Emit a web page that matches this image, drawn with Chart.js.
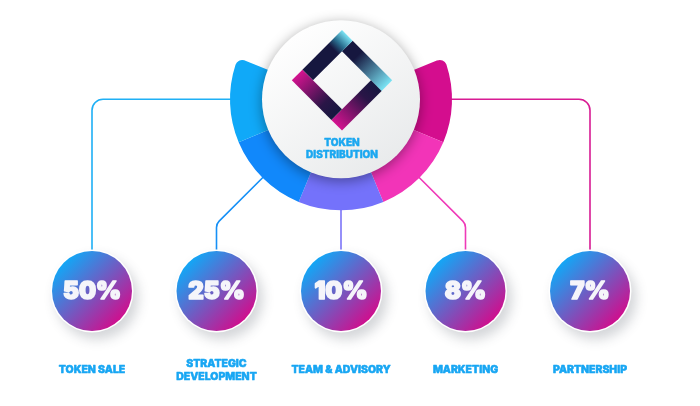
<!DOCTYPE html>
<html>
<head>
<meta charset="utf-8">
<script src="https://cdn.jsdelivr.net/npm/chart.js@4/dist/chart.umd.min.js"></script>
<style>
  html, body { margin: 0; padding: 0; background: #ffffff; }
  #wrap { width: 700px; height: 406px; position: relative; }
  canvas { display: block; }
</style>
</head>
<body>
<div id="wrap"><canvas id="c" width="700" height="406"></canvas></div>
<script>
// ---- data ----
const categories = ['TOKEN SALE', 'STRATEGIC DEVELOPMENT', 'TEAM & ADVISORY', 'MARKETING', 'PARTNERSHIP'];
const labelLines = [['TOKEN SALE'], ['STRATEGIC', 'DEVELOPMENT'], ['TEAM & ADVISORY'], ['MARKETING'], ['PARTNERSHIP']];
const shares = [50, 25, 10, 8, 7];
const shareLabels = ['50%', '25%', '10%', '8%', '7%'];
const ringSegments = [1, 1, 1, 1, 1]; // ring pieces are drawn with equal size
const ringColors = ['#10a9f8', '#1188fb', '#7472fb', '#f234b8', '#d40d8e'];
const lineColors = ['#1fb0f5', '#1690f6', '#7b74f8', '#ef3ab8', '#d81b93'];
const title = ['TOKEN', 'DISTRIBUTION'];

// doughnut draws clockwise from upper right, so feed it right-to-left
const ringData = ringSegments.slice().reverse();
const ringBg = ringColors.slice().reverse();
const ringLabels = categories.slice().reverse();

const FONT = 'Inter, "Noto Sans", sans-serif';

function circlePositions(meta) {
  const a = meta.data[0];
  const cx = a.x, step = 124.5, cy = 291;
  return shares.map((_, i) => ({ x: cx + (i - 2) * step, y: cy }));
}

function heavyText(ctx, txt, x, y, stroke) {
  ctx.lineWidth = stroke;
  ctx.lineJoin = 'round';
  ctx.strokeStyle = ctx.fillStyle;
  ctx.strokeText(txt, x, y);
  ctx.fillText(txt, x, y);
}

const infographic = {
  id: 'infographic',
  beforeDatasetsDraw(chart) {
    const ctx = chart.ctx;
    const meta = chart.getDatasetMeta(0);
    const arc = meta.data[0];
    const cx = arc.x, cy = arc.y, R = arc.outerRadius;
    const pos = circlePositions(meta);
    const topY = pos[0].y - 30;
    ctx.save();
    ctx.lineWidth = 1.6;
    ctx.lineCap = 'round';
    ctx.strokeStyle = lineColors[0];
    ctx.beginPath();
    ctx.moveTo(cx - R + 4, cy);
    ctx.arcTo(pos[0].x, cy, pos[0].x, topY, 11);
    ctx.lineTo(pos[0].x, topY);
    ctx.stroke();
    ctx.strokeStyle = lineColors[4];
    ctx.beginPath();
    ctx.moveTo(cx + R - 4, cy);
    ctx.arcTo(pos[4].x, cy, pos[4].x, topY, 11);
    ctx.lineTo(pos[4].x, topY);
    ctx.stroke();
    [[1, -1], [3, 1]].forEach(([i, s]) => {
      const sx = cx + s * (R - 4) * Math.SQRT1_2;
      const sy = cy + (R - 4) * Math.SQRT1_2;
      const ex = pos[i].x;
      const ey = sy + Math.abs(sx - ex);
      ctx.strokeStyle = lineColors[i];
      ctx.beginPath();
      ctx.moveTo(sx, sy);
      ctx.arcTo(ex, ey, ex, topY, 9);
      ctx.lineTo(ex, topY);
      ctx.stroke();
    });
    ctx.strokeStyle = lineColors[2];
    ctx.beginPath();
    ctx.moveTo(pos[2].x, cy + R - 4);
    ctx.lineTo(pos[2].x, topY);
    ctx.stroke();
    ctx.restore();
  },
  afterDatasetsDraw(chart) {
    const ctx = chart.ctx;
    const meta = chart.getDatasetMeta(0);
    const arc = meta.data[0];
    const cx = arc.x, cy = arc.y;
    const pos = circlePositions(meta);

    ctx.save();
    ctx.shadowColor = 'rgba(0,0,0,0.38)';
    ctx.shadowBlur = 13;
    ctx.shadowOffsetY = 3;
    const wg = ctx.createLinearGradient(cx - 50, cy - 70, cx + 50, cy + 70);
    wg.addColorStop(0, '#ffffff');
    wg.addColorStop(1, '#e8eaeb');
    ctx.fillStyle = wg;
    ctx.beginPath();
    ctx.arc(cx, cy, 79, 0, Math.PI * 2);
    ctx.fill();
    ctx.restore();

    // logo: pinwheel diamond
    ctx.save();
    ctx.translate(cx + 1, cy - 19);
    ctx.rotate(Math.PI / 4);
    const o = 35.5, n = 20.5;
    const navy = '#16173f', cyan = '#7ae3f4', mag = '#d3138f';
    function bar(x, y, w, h, gx0, gy0, gx1, gy1, stops) {
      const g = ctx.createLinearGradient(gx0, gy0, gx1, gy1);
      stops.forEach(s => g.addColorStop(s[0], s[1]));
      ctx.fillStyle = g;
      ctx.fillRect(x, y, w, h);
    }
    bar(-n, -o, o + n, o - n, -n, 0, o, 0, [[0, navy], [0.25, navy], [1, cyan]]);
    bar(-o, -o, o - n, o + n, 0, n, 0, -o, [[0, navy], [0.65, navy], [0.8, '#2a6f90'], [1, cyan]]);
    bar(n, -n, o - n, o + n, 0, -n, 0, o, [[0, navy], [0.3, '#2a1547'], [1, mag]]);
    bar(-o, n, o + n, o - n, n, 0, -o, 0, [[0, navy], [0.3, '#2a1547'], [1, mag]]);
    ctx.restore();

    ctx.save();
    ctx.fillStyle = '#1aa7f0';
    ctx.font = '800 10px ' + FONT;
    ctx.textAlign = 'center';
    ctx.textBaseline = 'middle';
    heavyText(ctx, title[0], cx + 1, 143, 0.5);
    heavyText(ctx, title[1], cx + 1, 155, 0.5);
    ctx.restore();

    pos.forEach((p, i) => {
      ctx.save();
      ctx.shadowColor = 'rgba(60,70,80,0.22)';
      ctx.shadowBlur = 12;
      ctx.shadowOffsetX = 5;
      ctx.shadowOffsetY = 7;
      ctx.fillStyle = '#ffffff';
      ctx.beginPath();
      ctx.arc(p.x, p.y, 41.5, 0, Math.PI * 2);
      ctx.fill();
      ctx.restore();

      ctx.save();
      const g = ctx.createLinearGradient(p.x - 30, p.y - 30, p.x + 30, p.y + 30);
      g.addColorStop(0, '#0dabf9');
      g.addColorStop(1, '#d40b8b');
      ctx.fillStyle = g;
      ctx.beginPath();
      ctx.arc(p.x, p.y, 40, 0, Math.PI * 2);
      ctx.fill();

      ctx.fillStyle = '#f5f5fa';
      ctx.font = '900 24px ' + FONT;
      ctx.textAlign = 'center';
      ctx.textBaseline = 'middle';
      heavyText(ctx, shareLabels[i], p.x, p.y + 1, 1.6);

      ctx.fillStyle = '#17a6f3';
      ctx.font = '800 10.5px ' + FONT;
      const lines = labelLines[i];
      if (lines.length === 1) {
        heavyText(ctx, lines[0], p.x, 370, 0.6);
      } else {
        heavyText(ctx, lines[0], p.x, 364, 0.6);
        heavyText(ctx, lines[1], p.x, 377, 0.6);
      }
      ctx.restore();
    });
  }
};

new Chart(document.getElementById('c'), {
  type: 'doughnut',
  data: {
    labels: ringLabels,
    datasets: [{
      data: ringData,
      backgroundColor: ringBg,
      borderWidth: 0,
      borderRadius: (c) => c.dataIndex === 0 ? { outerStart: 7 } :
                            c.dataIndex === ringData.length - 1 ? { outerEnd: 7 } : 0
    }]
  },
  options: {
    responsive: false,
    animation: false,
    devicePixelRatio: 1,
    rotation: 68,
    circumference: 224,
    radius: 111,
    cutout: '70%',
    layout: { padding: { left: 0, right: 18, top: 0, bottom: 138 } },
    plugins: { legend: { display: false }, tooltip: { enabled: false } },
    events: []
  },
  plugins: [infographic]
});
</script>
</body>
</html>
